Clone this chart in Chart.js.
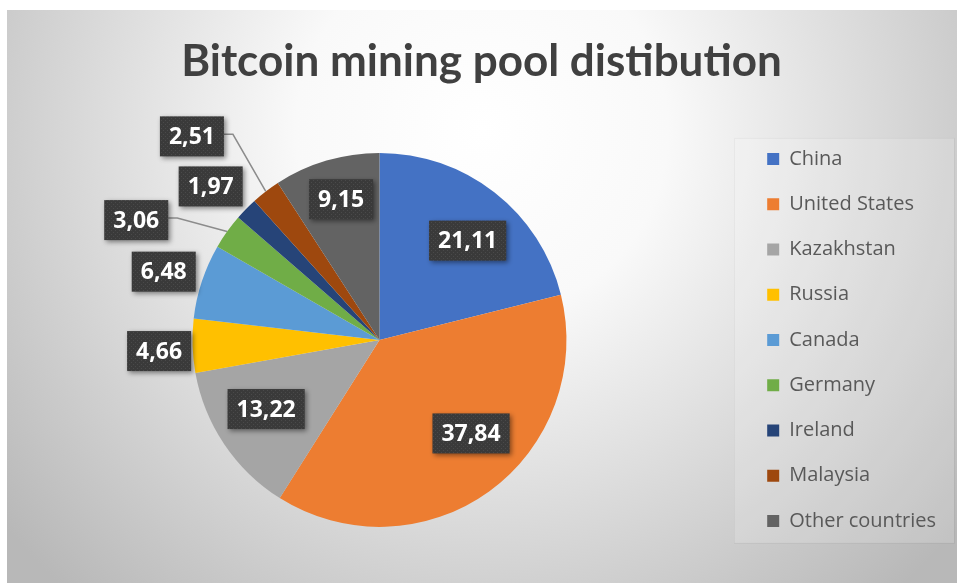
<!DOCTYPE html>
<html lang="en">
<head>
<meta charset="UTF-8">
<title>Bitcoin mining pool distibution</title>
<script src="https://cdn.jsdelivr.net/npm/chart.js"></script>
<style>
    html, body {
        margin: 0;
        padding: 0;
        background: #ffffff;
    }
    #wrap {
        position: absolute;
        left: 7px;
        top: 10px;
        width: 950px;
        height: 573px;
    }
</style>
</head>
<body>
<div id="wrap"><canvas id="poolChart"></canvas></div>
<script>
const countries = ['China', 'United States', 'Kazakhstan', 'Russia', 'Canada', 'Germany', 'Ireland', 'Malaysia', 'Other countries'];
const shares = [21.11, 37.84, 13.22, 4.66, 6.48, 3.06, 1.97, 2.51, 9.15];
const sliceColors = ['#4472C4', '#ED7D31', '#A5A5A5', '#FFC000', '#5B9BD5', '#70AD47', '#264478', '#9E480E', '#636363'];

// where each value tag sits: r = share of the radius, turn = degrees away from the slice middle
const labelSpots = [
    { r: 0.71, turn: 3.6 },
    { r: 0.70, turn: -8.5 },
    { r: 0.71, turn: 2.6 },
    { r: 1.18, turn: -1.1 },
    { r: 1.21, turn: -0.7 },
    { r: 1.45, turn: -9.2, leader: true },
    { r: 1.22, turn: -2.2 },
    { r: 1.48, turn: -5.2, leader: true },
    { r: 0.78, turn: 1.2 }
];

// dotted dark fill for the value tags
function tagPattern() {
    const c = document.createElement('canvas');
    c.width = 4;
    c.height = 4;
    const g = c.getContext('2d');
    g.fillStyle = '#3a3a3a';
    g.fillRect(0, 0, 4, 4);
    g.fillStyle = '#4a4a4a';
    g.fillRect(0, 0, 1, 1);
    g.fillRect(2, 2, 1, 1);
    return g.createPattern(c, 'repeat');
}

// grey radial backdrop and the pale legend panel
const backdrop = {
    id: 'backdrop',
    beforeDraw(chart) {
        const { ctx, width, height } = chart;
        ctx.save();
        const grad = ctx.createRadialGradient(width / 2, 120, 0, width / 2, 120, 620);
        grad.addColorStop(0, '#ffffff');
        grad.addColorStop(0.3, '#f9f9f9');
        grad.addColorStop(1, '#b8b8b8');
        ctx.fillStyle = grad;
        ctx.fillRect(0, 0, width, height);

        const lg = chart.legend;
        if (lg && lg.legendHitBoxes && lg.legendHitBoxes.length) {
            const boxes = lg.legendHitBoxes;
            const first = boxes[0];
            const last = boxes[boxes.length - 1];
            const x0 = lg.left - 8;
            const y0 = first.top - 11;
            const x1 = lg.right + 8;
            const y1 = last.top + last.height + 12;
            ctx.fillStyle = 'rgba(255,255,255,0.16)';
            ctx.fillRect(x0, y0, x1 - x0, y1 - y0);
            ctx.strokeStyle = 'rgba(0,0,0,0.045)';
            ctx.lineWidth = 1;
            ctx.strokeRect(x0 + 0.5, y0 + 0.5, x1 - x0, y1 - y0);
        }
        ctx.restore();
    }
};

// value tags in dark boxes, two of them joined to their slice by a leader line
const valueTags = {
    id: 'valueTags',
    afterDatasetsDraw(chart) {
        const { ctx } = chart;
        const meta = chart.getDatasetMeta(0);
        const fill = tagPattern();
        ctx.save();
        ctx.font = 'bold 23px "Open Sans", sans-serif';
        ctx.textAlign = 'center';
        ctx.textBaseline = 'middle';
        meta.data.forEach((arc, i) => {
            const { x, y, startAngle, endAngle, outerRadius } =
                arc.getProps(['x', 'y', 'startAngle', 'endAngle', 'outerRadius'], true);
            const mid = (startAngle + endAngle) / 2;
            const spot = labelSpots[i];
            const a = mid + spot.turn * Math.PI / 180;
            const cx = x + Math.cos(a) * outerRadius * spot.r;
            const cy = y + Math.sin(a) * outerRadius * spot.r;
            const text = shares[i].toFixed(2).replace('.', ',');
            const w = ctx.measureText(text).width + 18;
            const h = 40;

            if (spot.leader) {
                const ex = x + Math.cos(mid) * outerRadius;
                const ey = y + Math.sin(mid) * outerRadius;
                const bx = cx + w / 2;
                ctx.strokeStyle = '#8c8c8c';
                ctx.lineWidth = 1.5;
                ctx.beginPath();
                ctx.moveTo(bx, cy - 2);
                ctx.lineTo(bx + 9, cy - 2);
                ctx.lineTo(ex, ey);
                ctx.stroke();
            }

            ctx.shadowColor = 'rgba(0,0,0,0.45)';
            ctx.shadowBlur = 5;
            ctx.shadowOffsetX = 2;
            ctx.shadowOffsetY = 2;
            ctx.fillStyle = fill;
            ctx.fillRect(cx - w / 2, cy - h / 2, w, h);
            ctx.shadowColor = 'transparent';
            ctx.fillStyle = '#ffffff';
            ctx.fillText(text, cx, cy + 1);
        });
        ctx.restore();
    }
};

new Chart(document.getElementById('poolChart'), {
    type: 'pie',
    data: {
        labels: countries,
        datasets: [{
            data: shares,
            backgroundColor: sliceColors,
            borderWidth: 0,
            radius: 187
        }]
    },
    options: {
        responsive: true,
        maintainAspectRatio: false,
        animation: false,
        layout: {
            padding: { left: 10, right: 11, top: 0, bottom: 23 }
        },
        plugins: {
            title: {
                display: true,
                text: 'Bitcoin mining pool distibution',
                color: '#404040',
                font: {
                    family: "Lato, 'Open Sans', sans-serif",
                    size: 44,
                    weight: 'bold'
                },
                padding: { top: 25, bottom: 32 }
            },
            legend: {
                position: 'right',
                fullSize: false,
                labels: {
                    boxWidth: 12,
                    boxHeight: 12,
                    padding: 25.25,
                    color: '#595959',
                    font: { family: "'Open Sans', sans-serif", size: 20 }
                }
            },
            tooltip: { enabled: false }
        }
    },
    plugins: [backdrop, valueTags]
});
</script>
</body>
</html>
